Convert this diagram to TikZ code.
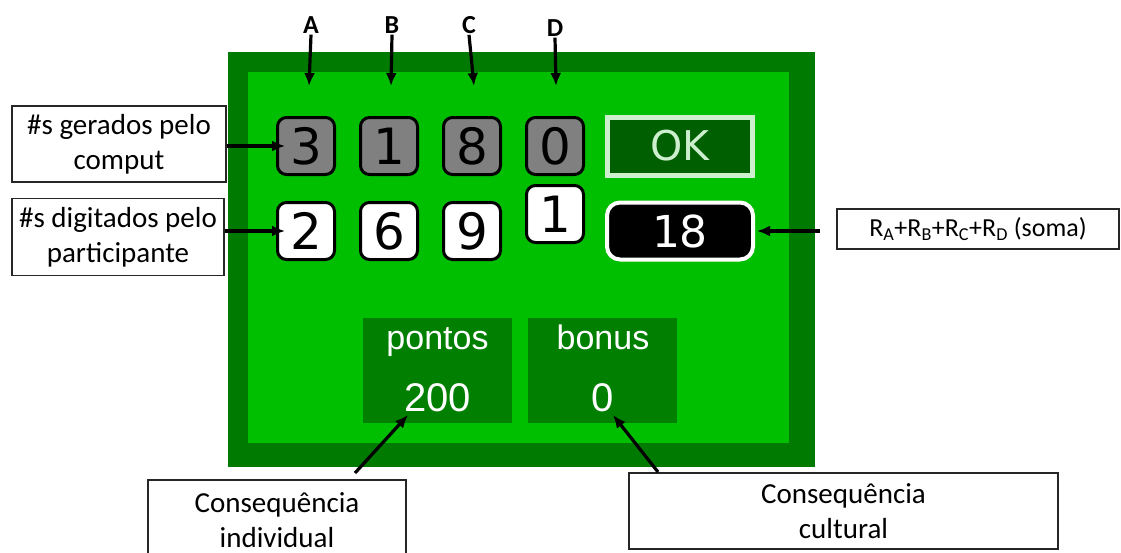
\documentclass[tikz,border=0pt]{standalone}
\usepackage{fontspec}
\setmainfont{Carlito}
\newfontfamily\digitfont{DejaVu Sans}
\newfontfamily\telafont{Liberation Sans}
\usetikzlibrary{arrows.meta,positioning}
\definecolor{telaborda}{HTML}{007A00}
\definecolor{telafundo}{HTML}{00BE00}
\definecolor{telacaixa}{HTML}{007F00}
\definecolor{okfundo}{HTML}{005F00}
\definecolor{okborda}{HTML}{CDEFCD}
\definecolor{digcinza}{HTML}{808080}
\tikzset{
  digitbox/.style={
    rectangle,
    rounded corners=9pt,
    draw=black,
    line width=3pt,
    minimum size=57pt,
    inner sep=0pt,
    font=\digitfont\fontsize{50}{50}\selectfont
  },
  digitgen/.style={digitbox, fill=digcinza},
  digittyped/.style={digitbox, fill=white},
  okbox/.style={digitbox, rounded corners=0pt, draw=okborda, fill=okfundo, line width=5pt,
    minimum width=145pt, minimum height=58pt, text=okborda, font=\digitfont\fontsize{41}{41}\selectfont},
  sumbox/.style={digitbox, rounded corners=13pt, draw=white, fill=black, line width=4pt,
    minimum width=146pt, minimum height=57pt, text=white, font=\digitfont\fontsize{44}{44}\selectfont},
  scorebox/.style={rectangle, fill=telacaixa, minimum width=149pt, minimum height=105pt, inner sep=0pt},
  scoretext/.style={text=white, inner sep=0pt, anchor=base, font=\telafont\fontsize{34}{34}\selectfont},
  scorevalue/.style={scoretext, font=\telafont\fontsize{40}{40}\selectfont},
  labelbox/.style={
    rectangle,
    draw=black!85,
    line width=1.2pt,
    fill=white,
    align=center,
    inner sep=0pt,
    font=\fontsize{29}{35}\selectfont
  },
  letterlabel/.style={inner sep=1pt, font=\bfseries\fontsize{26}{26}\selectfont},
  callarrow/.style={-{Latex[length=13pt,width=11pt]}, line width=3.2pt, draw=black}
}
\begin{document}
\begin{tikzpicture}[x=1pt,y=-1pt]
\useasboundingbox (0,0) rectangle (1121,552);
\fill[telaborda] (228,52) rectangle (815,467);
\fill[telafundo] (248,72) rectangle (789,443);
\node[digitgen] (g1) at (306,146) {3};
\node[digitgen, right=23pt of g1] (g2) {1};
\node[digitgen, right=23pt of g2] (g3) {8};
\node[digitgen, right=23pt of g3] (g4) {0};
\node[okbox, right=20pt of g4] (ok) {OK};
\node[digittyped, below=25pt of g1] (t1) {2};
\node[digittyped, below=25pt of g2] (t2) {6};
\node[digittyped, below=25pt of g3] (t3) {9};
\node[digittyped, below=8pt of g4] (t4) {1};
\node[sumbox, below=23pt of ok] (tot) {18};
\node[scorebox] (pbox) at (437.5,370.5) {};
\node[scorebox, right=16pt of pbox] (bbox) {};
\node[scoretext] (pts) at (437.5,349) {pontos};
\node[scorevalue] (ptsval) at (437.5,411) {200};
\node[scoretext] (bon) at (603,349) {bonus};
\node[scorevalue] (bonval) at (603,411) {0};
\node[letterlabel] (la) at (311,25) {A};
\node[letterlabel] (lb) at (392,25) {B};
\node[letterlabel] (lc) at (469,25) {C};
\node[letterlabel] (ld) at (555,28) {D};
\node[labelbox, minimum width=214pt, minimum height=76pt] (gen) at (119,144) {\#s gerados pelo\\comput};
\node[labelbox, minimum width=212pt, minimum height=77pt] (typ) at (118,237) {\#s digitados pelo\\participante};
\node[labelbox, minimum width=282pt, minimum height=40pt, font=\fontsize{26}{30}\selectfont] (soma) at (978,229)
  {R\textsubscript{A}+R\textsubscript{B}+R\textsubscript{C}+R\textsubscript{D} (soma)};
\node[labelbox, minimum width=258pt, minimum height=80pt] (indiv) at (277,520) {Consequência\\individual};
\node[labelbox, minimum width=429pt, minimum height=76pt] (cult) at (843.5,511) {Consequência\\cultural};
\coordinate (ta) at (309,86);
\coordinate (tb) at (391,86);
\coordinate (tc) at (474,86);
\coordinate (td) at (556,86);
\coordinate (indivfoot) at (355,473);
\coordinate (indivtip) at (408,415);
\coordinate (cultfoot) at (658,472);
\coordinate (culttip) at (613,415);
\draw[callarrow] (la.south) -- (ta);
\draw[callarrow] (lb.south) -- (tb);
\draw[callarrow] (lc.south) -- (tc);
\draw[callarrow] (ld.south) -- (td);
\draw[callarrow, shorten >=-9pt] (gen.east |- g1) -- (g1.west);
\draw[callarrow, shorten >=-9pt] (typ.east |- t1) -- (t1.west);
\draw[callarrow, shorten <=16pt, shorten >=2pt] (soma.west |- tot) -- (tot.east);
\draw[callarrow] (indivfoot) -- (indivtip);
\draw[callarrow] (cultfoot) -- (culttip);
\end{tikzpicture}
\end{document}
